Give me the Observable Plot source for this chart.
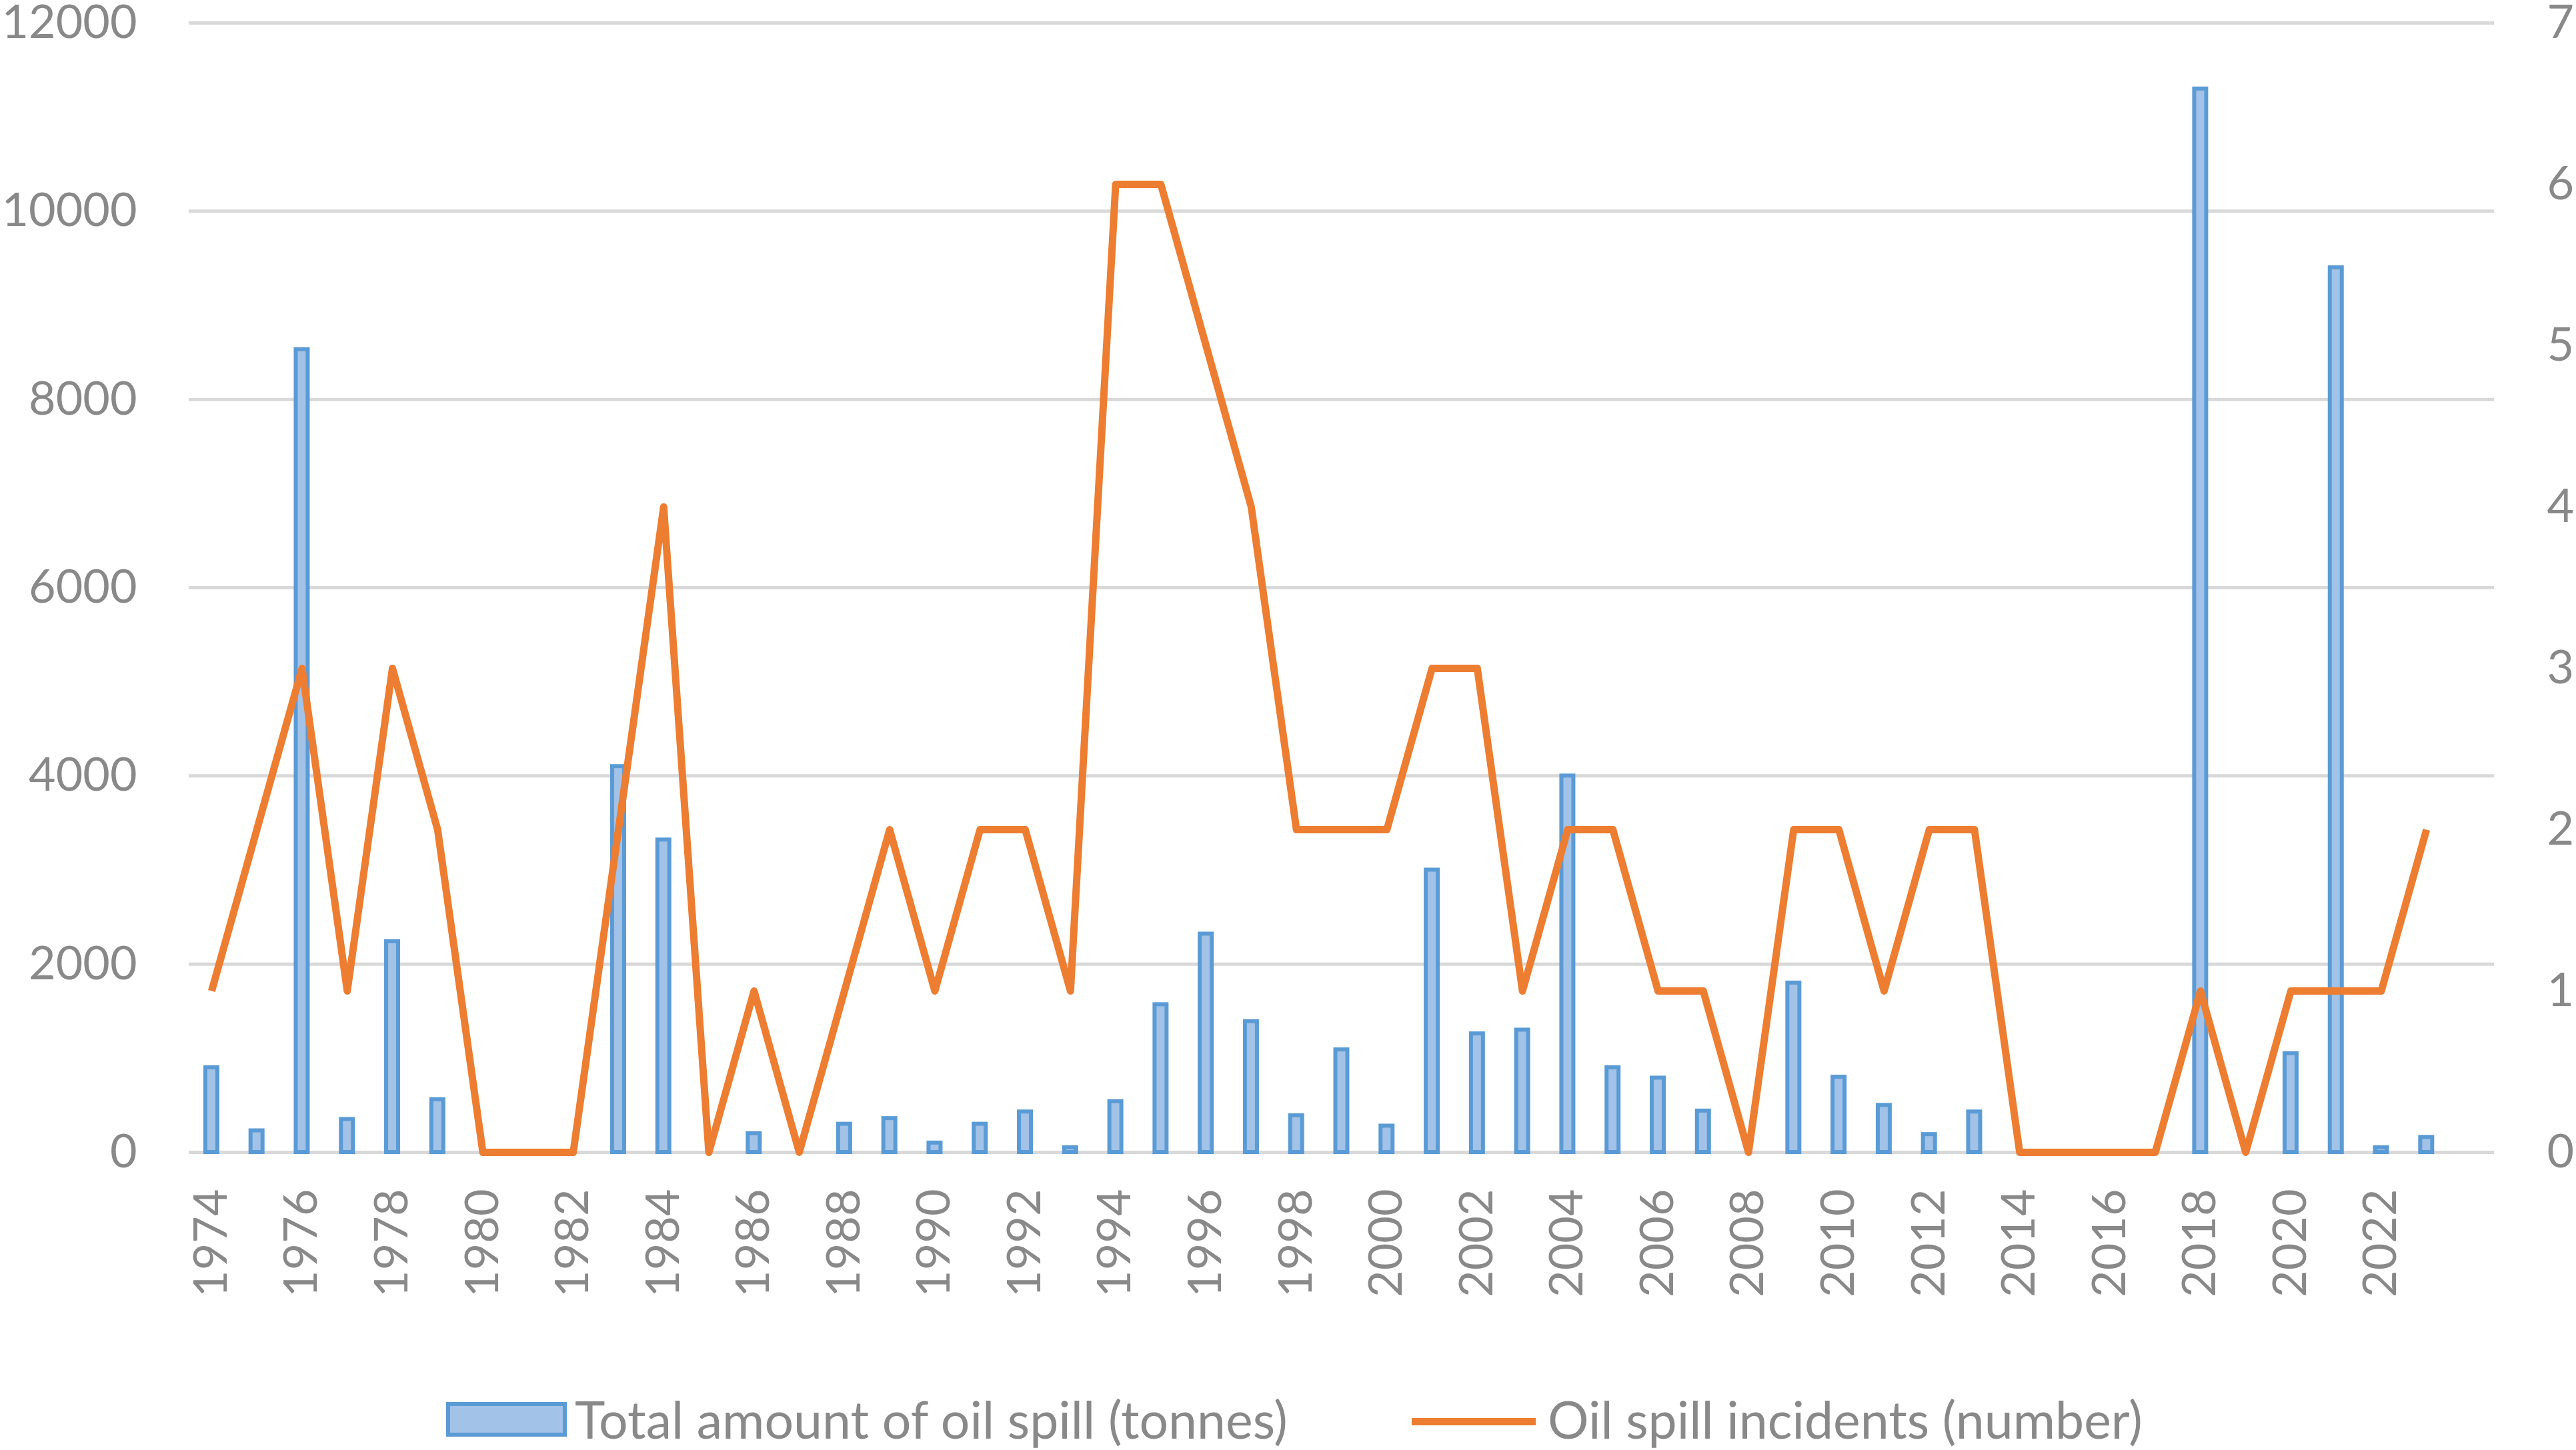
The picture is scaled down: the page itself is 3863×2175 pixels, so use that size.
<!DOCTYPE html>
<html>
<head>
<meta charset="utf-8">
<script src="https://cdn.jsdelivr.net/npm/d3@7"></script>
<script src="https://cdn.jsdelivr.net/npm/@observablehq/plot@0.6"></script>
<style>
  html, body { margin: 0; padding: 0; background: #ffffff; }
  #wrap { width: 3863px; height: 2175px; position: relative; overflow: hidden; font-family: Lato, "Liberation Sans", sans-serif; }
  #legend { position: absolute; left: 0; top: 2040px; width: 3863px; height: 135px; }
  .lg { position: absolute; }
  .lgtext { position: absolute; top: 88px; transform: translateY(-50%); font-size: 77px; color: #898989; white-space: nowrap; line-height: 1; }
  #chart svg { overflow: visible; }
</style>
</head>
<body>
<div id="wrap">
  <div id="chart"></div>
  <div id="legend"></div>
</div>
<script>
const years = [1974,1975,1976,1977,1978,1979,1980,1981,1982,1983,
               1984,1985,1986,1987,1988,1989,1990,1991,1992,1993,
               1994,1995,1996,1997,1998,1999,2000,2001,2002,2003,
               2004,2005,2006,2007,2008,2009,2010,2011,2012,2013,
               2014,2015,2016,2017,2018,2019,2020,2021,2022,2023];
const tonnes = [900,230,8530,350,2240,560,null,null,null,4100,
                3320,null,200,null,300,360,100,300,430,50,
                540,1570,2320,1390,390,1090,280,3000,1260,1300,
                4000,900,790,440,null,1800,800,500,190,430,
                null,null,null,null,11300,null,1050,9400,50,160];
const incidents = [1,2,3,1,3,2,0,0,0,2,
                   4,0,1,0,1,2,1,2,2,1,
                   6,6,5,4,2,2,2,3,3,1,
                   2,2,1,1,0,2,2,1,2,2,
                   0,0,0,0,1,0,1,1,1,2];
const leftTicks = [0,2000,4000,6000,8000,10000,12000];
const rightTicks = [0,1,2,3,4,5,6,7];
const xTickYears = years.filter((d, i) => i % 2 === 0);
const seriesNames = ["Total amount of oil spill (tonnes)", "Oil spill incidents (number)"];

const leftMax = 12000, rightMax = 7;
const toLeft = v => v * leftMax / rightMax;

const barData = years.map((y, i) => ({year: y, tonnes: tonnes[i]})).filter(d => d.tonnes != null);
const lineData = years.map((y, i) => ({year: y, n: incidents[i]}));

const W = 3863, H = 2040;
const mL = 283, mR = 123;
// one empty slot's worth of space is left after the last category
const step = (W - mL - mR) / (years.length + 1);
const inset = (step - 18) / 2;

const gray = "#898989";
const plot = Plot.plot({
  width: W,
  height: H,
  marginTop: 34,
  marginBottom: H - 1728,
  marginLeft: mL,
  marginRight: mR,
  style: {fontFamily: 'Lato, "Liberation Sans", sans-serif', fontSize: "70px", color: gray, background: "#ffffff", overflow: "visible"},
  x: {type: "band", domain: years, paddingInner: 0, paddingOuter: 0.5, align: 0},
  y: {domain: [0, leftMax], nice: false},
  marks: [
    Plot.ruleY(leftTicks, {stroke: "#d9d9d9", strokeWidth: 5}),
    Plot.barY(barData, {x: "year", y: "tonnes", fill: "#a2c2e8", stroke: "#5b9bd5", strokeWidth: 6, insetLeft: inset, insetRight: inset}),
    Plot.line(lineData, {x: "year", y: d => toLeft(d.n), stroke: "#ed7d31", strokeWidth: 11, strokeLinejoin: "round", strokeLinecap: "butt"}),
    Plot.axisY({anchor: "left", ticks: leftTicks, tickFormat: d => String(d), tickSize: 0, tickPadding: 78, label: null, fill: gray, fontSize: 70}),
    Plot.axisY({anchor: "right", ticks: rightTicks.map(toLeft), tickFormat: d => String(Math.round(d * rightMax / leftMax)), tickSize: 0, tickPadding: 79, label: null, fill: gray, fontSize: 70}),
    Plot.axisX({ticks: xTickYears, tickFormat: d => String(d), tickRotate: -90, tickSize: 0, tickPadding: 55, label: null, fill: gray, fontSize: 70})
  ]
});
document.getElementById("chart").appendChild(plot);

// Legend
const legend = document.getElementById("legend");
const sw1 = document.createElement("div");
sw1.className = "lg";
Object.assign(sw1.style, {left: "669px", top: "63px", width: "169px", height: "40px", border: "6px solid #5b9bd5", background: "#a2c2e8"});
legend.appendChild(sw1);
const t1 = document.createElement("div");
t1.className = "lgtext"; t1.style.left = "862px"; t1.textContent = seriesNames[0];
legend.appendChild(t1);
const sw2 = document.createElement("div");
sw2.className = "lg";
Object.assign(sw2.style, {left: "2117px", top: "87px", width: "186px", height: "11px", background: "#ed7d31"});
legend.appendChild(sw2);
const t2 = document.createElement("div");
t2.className = "lgtext"; t2.style.left = "2321px"; t2.textContent = seriesNames[1];
legend.appendChild(t2);
</script>
</body>
</html>
